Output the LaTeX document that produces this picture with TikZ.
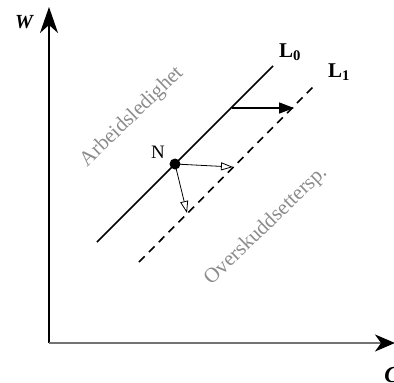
\documentclass[tikz,border=0pt]{standalone}
\usepackage{fontspec}
\setmainfont{Liberation Serif}
\usetikzlibrary{arrows.meta}
\begin{document}
\begin{tikzpicture}[x=1pt,y=-1pt,
  axis/.style={line width=1.4pt},
  curve/.style={line width=1.6pt},
  shade/.style={text=black!45,font=\fontsize{21}{21}\selectfont,rotate=44,inner sep=0pt},
  openarrow/.style={line width=0.8pt,-{Triangle[open,length=12pt,width=8pt]}},
  shiftarrow/.style={line width=1.6pt,-{Triangle[length=15pt,width=11pt]}},
  lbl/.style={inner sep=0pt,font=\fontsize{21}{21}\selectfont\bfseries}]
\useasboundingbox (0,0) rectangle (394,383);
\coordinate (O) at (49,343);
\coordinate (Wtop) at (49,7);
\coordinate (Cend) at (395,343);
\draw[axis,-{Stealth[length=26pt,width=18pt,inset=8pt]}] (O) -- (Wtop);
\draw[axis,black!55,-{Stealth[black,length=20pt,width=17pt,inset=6pt]}] (O) -- (Cend);
\node[lbl,font=\fontsize{20}{20}\selectfont\bfseries\itshape] (W) at (24,22) {W};
\node[lbl,font=\fontsize{23}{23}\selectfont\bfseries\itshape] (C) at (392,375) {C};
% L0 and L1
\coordinate (L0a) at (97,242);
\coordinate (L0b) at (273,66);
\coordinate (L1a) at (139,262);
\coordinate (L1b) at (313,87);
\draw[curve] (L0a) -- (L0b);
\draw[curve,dash pattern=on 8pt off 6pt] (L1a) -- (L1b);
\node[lbl] (L0) at (290,52) {L\textsubscript{0}};
\node[lbl] (L1) at (339,72) {L\textsubscript{1}};
% shift arrow
\coordinate (S0) at (232,108);
\coordinate (S1) at (294,108);
\draw[shiftarrow] (S0) -- (S1);
% point N
\coordinate (N) at (175,164);
\coordinate (A1) at (233,167);
\coordinate (A2) at (187,213);
\draw[openarrow] (N) -- (A1);
\draw[openarrow] (N) -- (A2);
\fill (N) circle (5.5);
\node[inner sep=0pt,font=\fontsize{19}{19}\selectfont] (Nl) at (158,152) {N};
% rotated labels
\node[shade] (arb) at (132,117) {Arbeidsledighet};
\node[shade] (ovs) at (266,226) {Overskuddsettersp.};
\end{tikzpicture}
\end{document}
